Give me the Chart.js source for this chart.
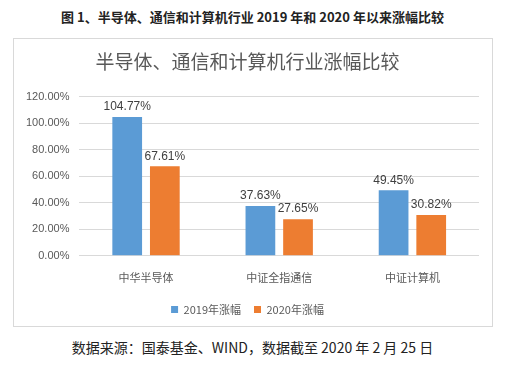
<!DOCTYPE html>
<html><head><meta charset="utf-8">
<script src="https://cdn.jsdelivr.net/npm/chart.js@4"></script>
<style>
html,body{margin:0;padding:0;background:#fff;width:505px;height:368px;overflow:hidden;font-family:"Noto Sans CJK SC","Liberation Sans",sans-serif;}
#t{position:absolute;left:0;top:7px;width:505px;text-align:center;font-size:13px;font-weight:bold;color:#222;}
#box{position:absolute;left:13px;top:38px;width:478px;height:287px;border:1px solid #d9d9d9;}
#src{position:absolute;left:0;top:337px;width:505px;text-align:center;font-size:14px;color:#222;}
</style></head><body>
<div id="t">图 1、半导体、通信和计算机行业 2019 年和 2020 年以来涨幅比较</div>
<div id="box"><canvas id="c"></canvas></div>
<div id="src">数据来源：国泰基金、WIND，数据截至 2020 年 2 月 25 日</div>
<script>
const categories = ["中华半导体", "中证全指通信", "中证计算机"];
const series2019 = [104.77, 37.63, 49.45];
const series2020 = [67.61, 27.65, 30.82];
const seriesNames = ["2019年涨幅", "2020年涨幅"];
const yTicksMax = 120;
const yStep = 20;

const labelPlugin = {
  id: 'vlabels',
  afterDatasetsDraw(chart) {
    const ctx = chart.ctx;
    ctx.save();
    ctx.font = '12px "Liberation Sans", sans-serif';
    ctx.fillStyle = '#404040';
    ctx.textAlign = 'center';
    ctx.textBaseline = 'bottom';
    chart.data.datasets.forEach((ds, i) => {
      chart.getDatasetMeta(i).data.forEach((bar, j) => {
        ctx.fillText(ds.data[j].toFixed(2) + '%', bar.x, bar.y - 4);
      });
    });
    ctx.restore();
  }
};

new Chart(document.getElementById('c'), {
  type: 'bar',
  data: {
    labels: categories,
    datasets: [
      {label: seriesNames[0], data: series2019, backgroundColor: '#5b9bd5', categoryPercentage: 0.565, barPercentage: 0.79},
      {label: seriesNames[1], data: series2020, backgroundColor: '#ed7d31', categoryPercentage: 0.565, barPercentage: 0.79}
    ]
  },
  options: {
    responsive: true,
    maintainAspectRatio: false,
    animation: false,
    layout: {padding: {left: 2, right: 13, top: 8, bottom: 1}},
    plugins: {
      title: {display: true, text: '半导体、通信和计算机行业涨幅比较', color: '#595959',
        font: {size: 19, family: '"Noto Sans CJK SC", sans-serif', weight: 'normal'}, padding: {top: 3, bottom: 24}},
      legend: {position: 'bottom', labels: {boxWidth: 7, boxHeight: 7, color: '#595959', padding: 13,
        font: {size: 11, family: '"Noto Sans CJK SC", sans-serif'}}},
      tooltip: {enabled: false}
    },
    scales: {
      x: {grid: {display: false}, border: {display: false},
        ticks: {color: '#595959', font: {size: 11, family: '"Noto Sans CJK SC", sans-serif'}, padding: 7}},
      y: {min: 0, max: yTicksMax, border: {display: false},
        grid: {color: '#d9d9d9', drawTicks: false},
        ticks: {stepSize: yStep, color: '#595959', padding: 10, font: {size: 11, family: '"Liberation Sans", sans-serif'},
          callback: v => v.toFixed(2) + '%'}}
    }
  },
  plugins: [labelPlugin]
});
</script>
</body></html>
